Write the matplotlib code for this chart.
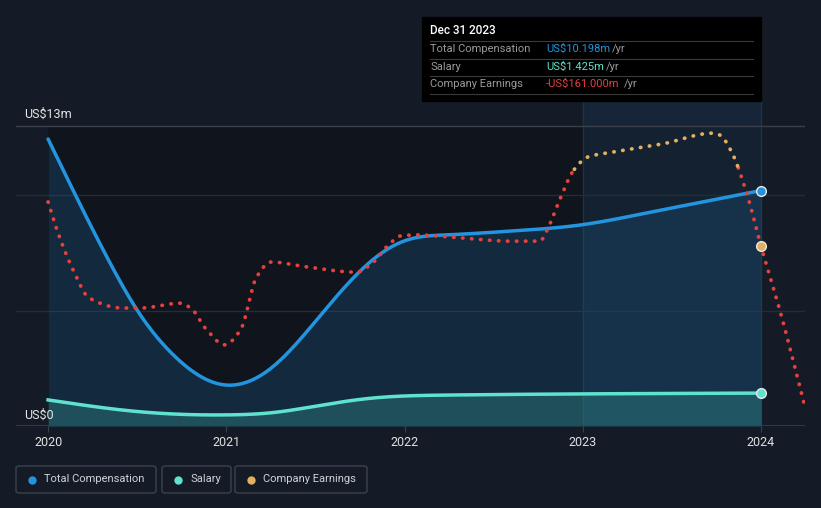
import numpy as np
import matplotlib.pyplot as plt
from matplotlib.patches import FancyBboxPatch, Rectangle

plt.rcParams['font.family'] = ['Roboto', 'DejaVu Sans']

# ---- data (US$ m)
comp_t = [2020.0, 2020.33, 2020.51, 2020.70, 2020.99, 2021.26, 2021.54, 2021.82,
          2022.0, 2022.24, 2022.61, 2022.99, 2023.36, 2023.73, 2024.0]
comp_v = [12.43, 7.32, 4.90, 3.10, 1.78, 2.56, 4.90, 7.19,
          8.02, 8.28, 8.45, 8.71, 9.23, 9.79, 10.198]

sal_t = [2020.0, 2020.51, 2020.99, 2021.26, 2021.54, 2021.82, 2022.0, 2022.24, 2022.99, 2024.0]
sal_v = [1.13, 0.62, 0.48, 0.58, 0.91, 1.21, 1.30, 1.34, 1.39, 1.425]

earn_t = [2020.0, 2020.05, 2020.14, 2020.23, 2020.42, 2020.52, 2020.74, 2020.80, 2020.89,
          2020.99, 2021.08, 2021.17, 2021.25, 2021.45, 2021.73, 2021.82, 2021.92, 2021.98,
          2022.07, 2022.24, 2022.61, 2022.76, 2022.80, 2022.87, 2022.95, 2023.03, 2023.17,
          2023.45, 2023.73, 2023.77, 2023.83, 2023.92, 2024.0, 2024.11, 2024.24]
earn_v = [-70, -128, -210, -268, -289, -289, -279, -289, -334,
          -365, -334, -225, -194, -204, -215, -196, -155, -140,
          -138, -142, -151, -151, -128, -66, -4, 23, 33,
          50, 72, 68, 37, -52, -161, -299, -483]

years = [2020, 2021, 2022, 2023, 2024]

BG = '#151b26'
BLUE = '#2394df'
TEAL = '#5fe3cf'
RED = '#e8403f'
ORANGE = '#e2b060'


def pchip(x, y, xs):
    x = np.asarray(x, float); y = np.asarray(y, float)
    h = np.diff(x); d = np.diff(y) / h
    m = np.zeros_like(y)
    for k in range(1, len(x) - 1):
        if d[k - 1] * d[k] > 0:
            w1 = 2 * h[k] + h[k - 1]; w2 = h[k] + 2 * h[k - 1]
            m[k] = (w1 + w2) / (w1 / d[k - 1] + w2 / d[k])
    m[0] = d[0]; m[-1] = d[-1]
    i = np.clip(np.searchsorted(x, xs) - 1, 0, len(x) - 2)
    t = (xs - x[i]) / h[i]
    h00 = 2*t**3 - 3*t**2 + 1; h10 = t**3 - 2*t**2 + t
    h01 = -2*t**3 + 3*t**2; h11 = t**3 - t**2
    return h00*y[i] + h10*h[i]*m[i] + h01*y[i+1] + h11*h[i]*m[i+1]


def spline(x, y, xs):
    # natural cubic spline
    x = np.asarray(x, float); y = np.asarray(y, float)
    n = len(x); h = np.diff(x)
    A = np.zeros((n, n)); r = np.zeros(n)
    A[0, 0] = A[-1, -1] = 1
    for k in range(1, n - 1):
        A[k, k-1] = h[k-1]; A[k, k] = 2*(h[k-1] + h[k]); A[k, k+1] = h[k]
        r[k] = 6*((y[k+1]-y[k])/h[k] - (y[k]-y[k-1])/h[k-1])
    M = np.linalg.solve(A, r)
    i = np.clip(np.searchsorted(x, xs) - 1, 0, n - 2)
    a = x[i+1] - xs; b = xs - x[i]
    return (M[i]*a**3 + M[i+1]*b**3)/(6*h[i]) + (y[i]/h[i] - M[i]*h[i]/6)*a + (y[i+1]/h[i] - M[i+1]*h[i]/6)*b


fig = plt.figure(figsize=(8.21, 5.08), dpi=100, facecolor=BG)
ax = fig.add_axes([16/821, 82/508, 789/821, 326/508])
ax.set_facecolor(BG)
ax.set_xlim(2019.82, 2024.247)
ax.set_ylim(0, 14.12)

# plot backgrounds
ax.add_patch(Rectangle((2020, 0), 4, 13, color='#10141c', zorder=0, lw=0))
ax.axvspan(2023, 2024, ymin=0, ymax=1, color='#1b4468', alpha=0.28, zorder=1, lw=0)
ax.axvline(2023, color='#1d3348', lw=1, zorder=1)
ax.axvline(2024, color='#1d3348', lw=1, zorder=1)

for g in [5, 10]:
    ax.axhline(g, color='#262c36', lw=1, zorder=2)
ax.axhline(13, color='#3a404a', lw=1, zorder=2)
ax.axhline(0, color='#3a404a', lw=1.2, zorder=6)

# total compensation
tc = np.linspace(2020, 2024, 600)
cc = spline(comp_t, comp_v, tc)
ax.fill_between(tc, 0, cc, color='#1d5a8a', alpha=0.3, lw=0, zorder=3)
ax.plot(tc, cc, color=BLUE, lw=2.5, zorder=5, solid_capstyle='round')

# salary
sc = spline(sal_t, sal_v, tc)
ax.fill_between(tc, 0, sc, color='#3aa8a0', alpha=0.3, lw=0, zorder=3)
ax.plot(tc, sc, color=TEAL, lw=2.5, zorder=5)

# company earnings on a hidden secondary scale
ax2 = ax.twinx()
ax2.set_ylim(-532.5, 140.4)
ax2.axis('off')
te = np.linspace(2020, 2024.24, 1200)
ec = pchip(earn_t, earn_v, te)
neg = np.ma.masked_where(ec > 3, ec)
pos = np.ma.masked_where(ec < -3, ec)
dots = (0, (0.1, 2.3))
ax2.plot(te, neg, color=RED, lw=2.7, ls=dots, dash_capstyle='round', zorder=4)
ax2.plot(te, pos, color=ORANGE, lw=2.7, ls=dots, dash_capstyle='round', zorder=4)
ax2.plot([2024], [earn_v[earn_t.index(2024.0)]], 'o', ms=7, color=ORANGE, mec='#e8e8e8', mew=1, zorder=7)

ax.plot([2024], [comp_v[-1]], 'o', ms=7, color=BLUE, mec='#e8e8e8', mew=1, zorder=7)
ax.plot([2024], [sal_v[-1]], 'o', ms=7, color=TEAL, mec='#e8e8e8', mew=1, zorder=7)

# axes styling
for s in ax.spines.values():
    s.set_visible(False)
ax.set_yticks([])
ax.set_xticks(years)
ax.set_xticklabels([str(y) for y in years], color='#e0e0e0', fontsize=9)
ax.tick_params(axis='x', length=4, color='#3a404a', pad=3)

ax.text(0.0101, 13.22, 'US$13m', transform=ax.get_yaxis_transform(),
        color='#e6e6e6', fontsize=9, va='bottom')
ax.text(0.0101, 0.2, 'US$0', transform=ax.get_yaxis_transform(),
        color='#e6e6e6', fontsize=9, va='bottom')


def fx(x):
    return x / 821


def fy(y):
    return 1 - y / 508


# tooltip
fig.patches.append(Rectangle((fx(422), fy(101)), fx(761) - fx(422), fy(17) - fy(101),
                             transform=fig.transFigure, color='#000000', zorder=10))
fig.text(fx(430), fy(31), 'Dec 31 2023', color='#ffffff', fontsize=8.5, weight='medium',
         va='center', zorder=11)
rows = [('Total Compensation', 'US$10.198m', BLUE, 49, 612),
        ('Salary', 'US$1.425m', TEAL, 67, 606),
        ('Company Earnings', '-US$161.000m', RED, 84, 624)]
for ly in [41, 59, 76, 94]:
    fig.add_artist(plt.Line2D([fx(430), fx(753)], [fy(ly), fy(ly)], color='#3a3a3a', lw=0.8, zorder=11))
for lab, val, col, yy, xr in rows:
    fig.text(fx(430), fy(yy), lab, color='#9a9a9a', fontsize=8, va='center', zorder=11)
    fig.text(fx(546), fy(yy), val, color=col, fontsize=8, va='center', zorder=11)
    fig.text(fx(xr), fy(yy), '/yr', color='#9a9a9a', fontsize=8, va='center', zorder=11)

# legend
items = [('Total Compensation', BLUE, 16, 156), ('Salary', TEAL, 162, 231),
         ('Company Earnings', ORANGE, 235, 367)]
for lab, col, x0, x1 in items:
    fig.patches.append(FancyBboxPatch((fx(x0), fy(493)), fx(x1) - fx(x0), fy(466) - fy(493),
                                      boxstyle='round,pad=0,rounding_size=0.004',
                                      transform=fig.transFigure, fc=BG, ec='#3d424c', lw=1))
    fig.add_artist(plt.Line2D([fx(x0 + 16)], [fy(479.5)], marker='o', ms=6, color=col, mew=0))
    fig.text(fx(x0 + 28), fy(479.5), lab, color='#cfd2d6', fontsize=8, va='center')

fig.savefig('out.png', dpi=100, facecolor=BG)
